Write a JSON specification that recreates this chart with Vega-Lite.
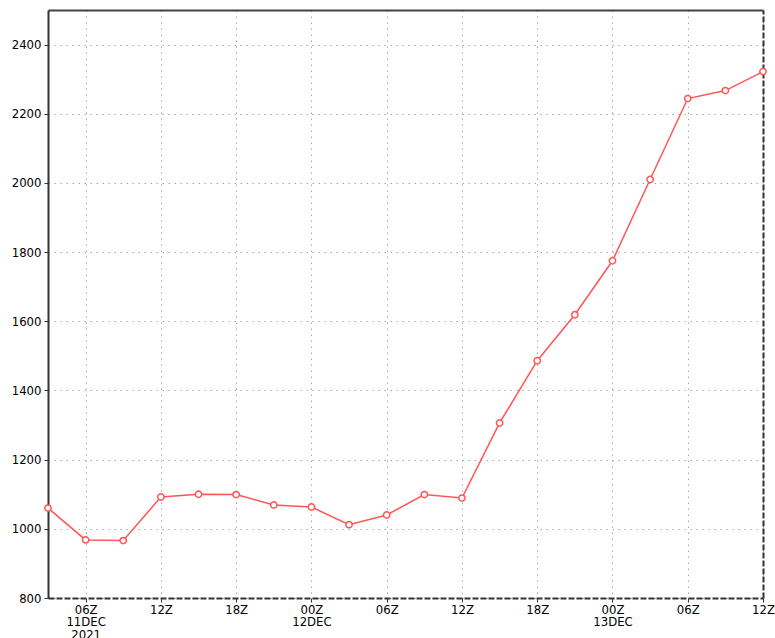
{
  "width": 715,
  "height": 588,
  "autosize": {"type": "none"},
  "padding": {"left": 48, "top": 10, "right": 12, "bottom": 40},
  "background": "white",
  "config": {
    "view": {"stroke": null},
    "axis": {
      "labelFont": "DejaVu Sans Condensed, Liberation Sans, sans-serif",
      "labelFontSize": 13,
      "labelColor": "#000",
      "tickColor": "#333",
      "tickSize": 4,
      "domainColor": "#333",
      "domainWidth": 2,
      "gridColor": "#aaaaaa",
      "gridDash": [1.5, 4.5],
      "gridWidth": 1,
      "title": null
    }
  },
  "data": {
    "values": [
      {"time": "2021-12-11T03:00:00Z", "value": 1060},
      {"time": "2021-12-11T06:00:00Z", "value": 968},
      {"time": "2021-12-11T09:00:00Z", "value": 966},
      {"time": "2021-12-11T12:00:00Z", "value": 1092},
      {"time": "2021-12-11T15:00:00Z", "value": 1100},
      {"time": "2021-12-11T18:00:00Z", "value": 1099},
      {"time": "2021-12-11T21:00:00Z", "value": 1069},
      {"time": "2021-12-12T00:00:00Z", "value": 1063},
      {"time": "2021-12-12T03:00:00Z", "value": 1012},
      {"time": "2021-12-12T06:00:00Z", "value": 1040},
      {"time": "2021-12-12T09:00:00Z", "value": 1099},
      {"time": "2021-12-12T12:00:00Z", "value": 1089},
      {"time": "2021-12-12T15:00:00Z", "value": 1306},
      {"time": "2021-12-12T18:00:00Z", "value": 1486},
      {"time": "2021-12-12T21:00:00Z", "value": 1619},
      {"time": "2021-12-13T00:00:00Z", "value": 1775},
      {"time": "2021-12-13T03:00:00Z", "value": 2010},
      {"time": "2021-12-13T06:00:00Z", "value": 2244},
      {"time": "2021-12-13T09:00:00Z", "value": 2267},
      {"time": "2021-12-13T12:00:00Z", "value": 2322}
    ]
  },
  "resolve": {"axis": {"x": "independent", "y": "independent"}},
  "layer": [
    {
      "mark": {"type": "line", "color": "#ff5555", "strokeWidth": 1.5},
      "encoding": {
        "x": {
          "field": "time",
          "type": "temporal",
          "scale": {"type": "utc", "nice": false},
          "axis": {
            "orient": "bottom",
            "domainDash": [6, 2],
            "values": [1639202400000, 1639224000000, 1639245600000, 1639267200000, 1639288800000, 1639310400000, 1639332000000, 1639353600000, 1639375200000, 1639396800000],
            "labelExpr": "utchours(datum.value) == 6 && utcdate(datum.value) == 11 ? ['06Z', '11DEC', '2021'] : utchours(datum.value) == 0 ? [utcFormat(datum.value, '%HZ'), utcFormat(datum.value, '%d') + 'DEC'] : utcFormat(datum.value, '%HZ')",
            "labelLineHeight": 12.5,
            "labelPadding": 1,
            "labelFlush": false,
            "labelOverlap": false
          }
        },
        "y": {
          "field": "value",
          "type": "quantitative",
          "scale": {"domain": [800, 2500], "nice": false, "zero": false},
          "axis": {
            "orient": "left",
            "format": "d",
            "values": [800, 1000, 1200, 1400, 1600, 1800, 2000, 2200, 2400],
            "labelPadding": 3
          }
        }
      }
    },
    {
      "mark": {"type": "point", "shape": "circle", "filled": true, "fill": "white", "stroke": "#ff5555", "strokeWidth": 1.5, "size": 40, "opacity": 1},
      "encoding": {
        "x": {
          "field": "time",
          "type": "temporal",
          "axis": {"orient": "top", "labels": false, "ticks": false, "grid": false, "domainColor": "#444"}
        },
        "y": {
          "field": "value",
          "type": "quantitative",
          "axis": {"orient": "right", "labels": false, "ticks": false, "grid": false, "domainDash": [6, 2]}
        }
      }
    }
  ]
}
